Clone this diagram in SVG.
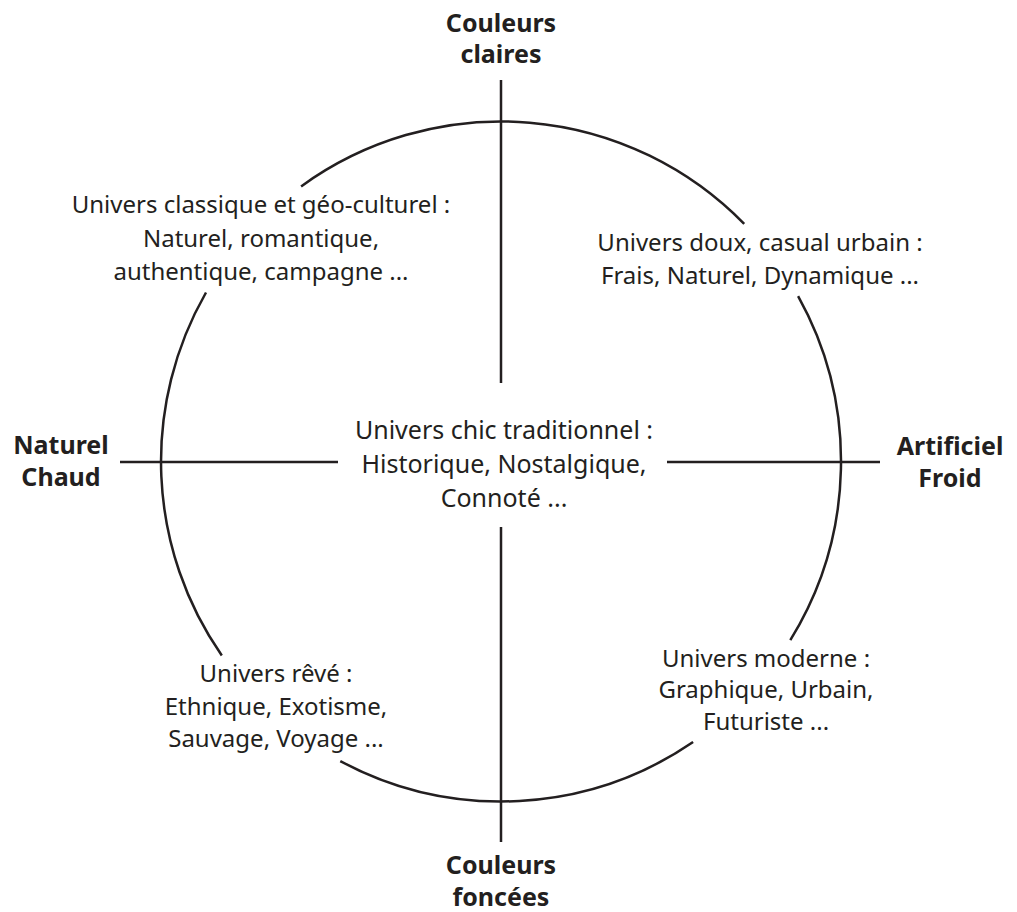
<svg xmlns="http://www.w3.org/2000/svg" width="1017" height="912" viewBox="0 0 1017 912">
<style>
.ln{fill:none;stroke:#231f20;stroke-width:2.5}
.t{font-family:"Noto Sans","Open Sans",sans-serif;font-size:24px;fill:#231f20;text-anchor:middle}
.c{font-size:25px}
.b{font-family:"Noto Sans","Open Sans",sans-serif;font-size:25px;font-weight:bold;fill:#231f20;text-anchor:middle}
</style>
<rect width="1017" height="912" fill="#ffffff"/>
<g id="connectors">
<path class="ln" d="M301.1,186.4 A340,340 0 0 1 744.2,223.9"/>
<path class="ln" d="M798.1,296.2 A340,340 0 0 1 790.3,640.2"/>
<path class="ln" d="M693.1,742 A340,340 0 0 1 340.3,761.1"/>
<path class="ln" d="M221.8,655.5 A340,340 0 0 1 206,292.5"/>
<line class="ln" x1="501" y1="80" x2="501" y2="383"/>
<line class="ln" x1="501" y1="527" x2="501" y2="842"/>
<line class="ln" x1="120" y1="462" x2="338" y2="462"/>
<line class="ln" x1="667" y1="462" x2="880" y2="462"/>
</g>
<g id="top-label"><text class="b" x="501" y="32">Couleurs</text><text class="b" x="501" y="63">claires</text></g>
<g id="bottom-label"><text class="b" x="501" y="874">Couleurs</text><text class="b" x="501" y="906">foncées</text></g>
<g id="left-label"><text class="b" x="61" y="454">Naturel</text><text class="b" x="61" y="486">Chaud</text></g>
<g id="right-label"><text class="b" x="950" y="455">Artificiel</text><text class="b" x="950" y="487">Froid</text></g>
<g id="center"><text class="t c" x="504" y="439">Univers chic traditionnel :</text><text class="t c" x="504" y="473">Historique, Nostalgique,</text><text class="t c" x="504" y="507">Connoté ...</text></g>
<g id="top-left"><text class="t" x="261" y="213">Univers classique et géo-culturel :</text><text class="t" x="261" y="247">Naturel, romantique,</text><text class="t" x="261" y="280">authentique, campagne ...</text></g>
<g id="top-right"><text class="t" x="760" y="251">Univers doux, casual urbain :</text><text class="t" x="760" y="284">Frais, Naturel, Dynamique ...</text></g>
<g id="bottom-left"><text class="t" x="276" y="682">Univers rêvé :</text><text class="t" x="276" y="715">Ethnique, Exotisme,</text><text class="t" x="276" y="747">Sauvage, Voyage ...</text></g>
<g id="bottom-right"><text class="t" x="766" y="667">Univers moderne :</text><text class="t" x="766" y="698">Graphique, Urbain,</text><text class="t" x="766" y="730">Futuriste ...</text></g>
</svg>
